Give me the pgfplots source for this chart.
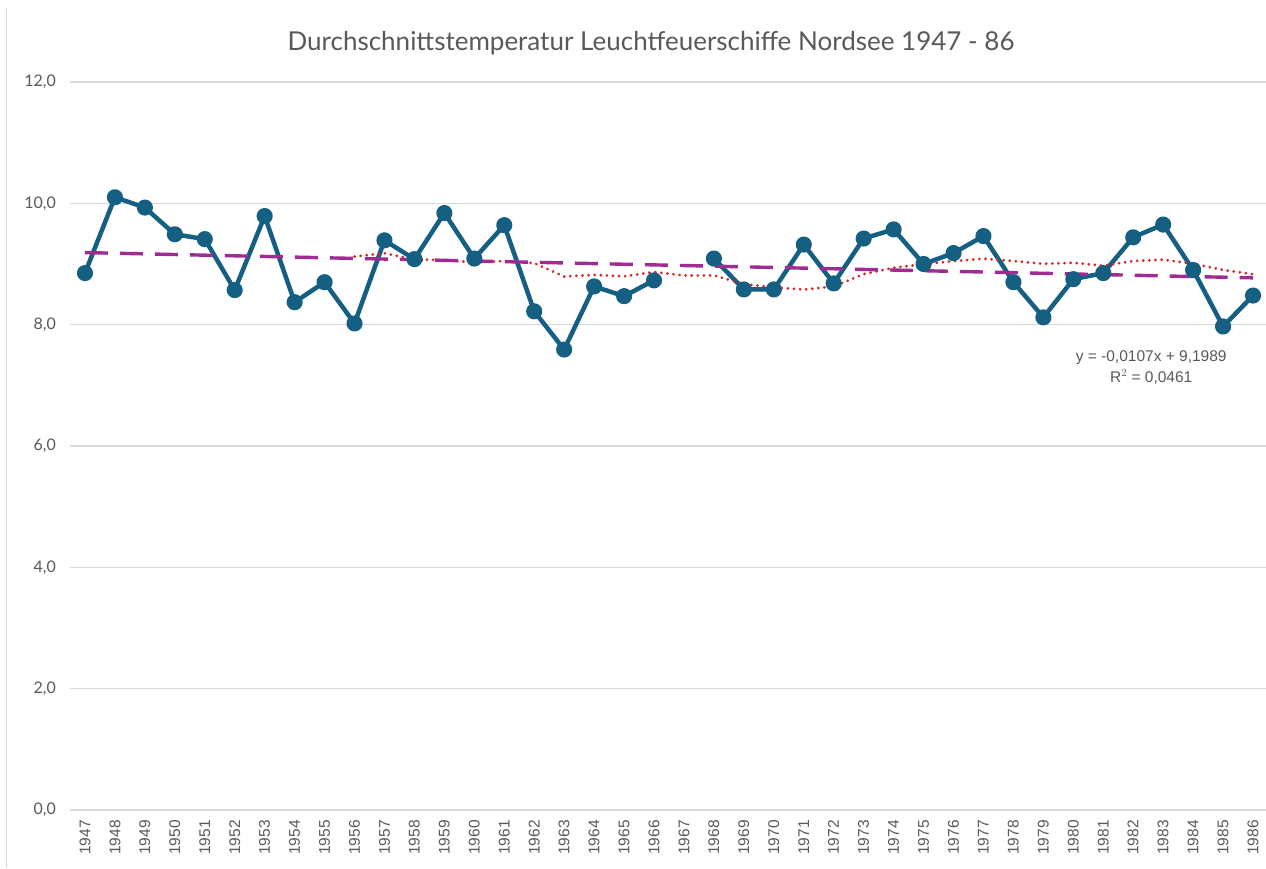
\documentclass[border=0pt]{standalone}
\usepackage{fontspec}
\setmainfont{Lato}
\newfontfamily\arialf{Liberation Sans}
\usepackage{pgfplots}
\pgfplotsset{compat=1.18}
\definecolor{mainblue}{HTML}{156082}
\definecolor{trendpurple}{HTML}{A02B93}
\definecolor{mared}{HTML}{D42A2A}
\definecolor{txtgray}{HTML}{595959}
\definecolor{gridgray}{HTML}{D9D9D9}
\begin{document}
\begin{tikzpicture}
\useasboundingbox (0,0) rectangle (1266pt,868pt);
\fill[white] (0,0) rectangle (1266pt,868pt);
\draw[gridgray, line width=1.5pt] (6.5pt,0) -- (6.5pt,860pt);
\node[txtgray, font=\fontsize{26}{31}\selectfont] at (651pt,825pt) {Durchschnittstemperatur Leuchtfeuerschiffe Nordsee 1947 - 86};
\begin{axis}[
  at={(70pt,58pt)}, anchor=south west,
  scale only axis, width=1198pt, height=728pt,
  xmin=1946.5, xmax=1986.5, ymin=0, ymax=12,
  ytick={0,2,...,12},
  xtick={1947,...,1986},
  axis line style={draw=none},
  major tick length=0pt,
  ymajorgrids, grid style={gridgray, line width=1.2pt},
  /pgf/number format/assume math mode=true,
  yticklabel style={txtgray, font=\fontsize{16}{19}\selectfont, anchor=east, inner sep=0pt, xshift=-14pt,
    /pgf/number format/.cd, fixed, fixed zerofill, precision=1, use comma},
  xticklabel={\pgfmathprintnumber[fixed,precision=0,1000 sep={}]{\tick}},
  xticklabel style={txtgray, font=\arialf\fontsize{15.5}{18}\selectfont, yshift=-10pt, rotate=90, anchor=east, inner sep=0pt},
  unbounded coords=jump,
  clip=false,
]
\addplot[mainblue, line width=4.5pt, line join=round, mark=*, mark size=5.8pt, mark options={solid, fill=mainblue, draw=none}] coordinates {
(1947,8.85) (1948,10.10) (1949,9.93) (1950,9.49) (1951,9.41) (1952,8.57) (1953,9.79) (1954,8.37) (1955,8.70) (1956,8.02)
(1957,9.39) (1958,9.08) (1959,9.84) (1960,9.09) (1961,9.64) (1962,8.22) (1963,7.59) (1964,8.63) (1965,8.47) (1966,8.73)
(1967,nan) (1968,9.09) (1969,8.58) (1970,8.58) (1971,9.32) (1972,8.68) (1973,9.42) (1974,9.57) (1975,9.00) (1976,9.18)
(1977,9.46) (1978,8.70) (1979,8.12) (1980,8.75) (1981,8.85) (1982,9.44) (1983,9.65) (1984,8.90) (1985,7.97) (1986,8.48)
};
\addplot[mared, line width=3pt, line cap=round, dash pattern=on 0.1pt off 6pt] coordinates {
(1956,9.123) (1957,9.177) (1958,9.075) (1959,9.066) (1960,9.026) (1961,9.049) (1962,9.014) (1963,8.794) (1964,8.820) (1965,8.797)
(1966,8.868) (1967,8.810) (1968,8.811) (1969,8.671) (1970,8.614) (1971,8.579) (1972,8.630) (1973,8.833) (1974,8.938) (1975,8.997)
(1976,9.047) (1977,9.088) (1978,9.049) (1979,9.003) (1980,9.020) (1981,8.973) (1982,9.049) (1983,9.072) (1984,9.005) (1985,8.902)
(1986,8.832)
};
\addplot[trendpurple, line width=3.4pt, dash pattern=on 23pt off 12pt] coordinates {(1947,9.1882) (1986,8.7716)};
\node[txtgray, font=\arialf\fontsize{15.5}{21}\selectfont, align=center] at (axis cs:1982.6,7.30) {y = -0,0107x + 9,1989\\R$^2$ = 0,0461};
\end{axis}
\end{tikzpicture}
\end{document}
